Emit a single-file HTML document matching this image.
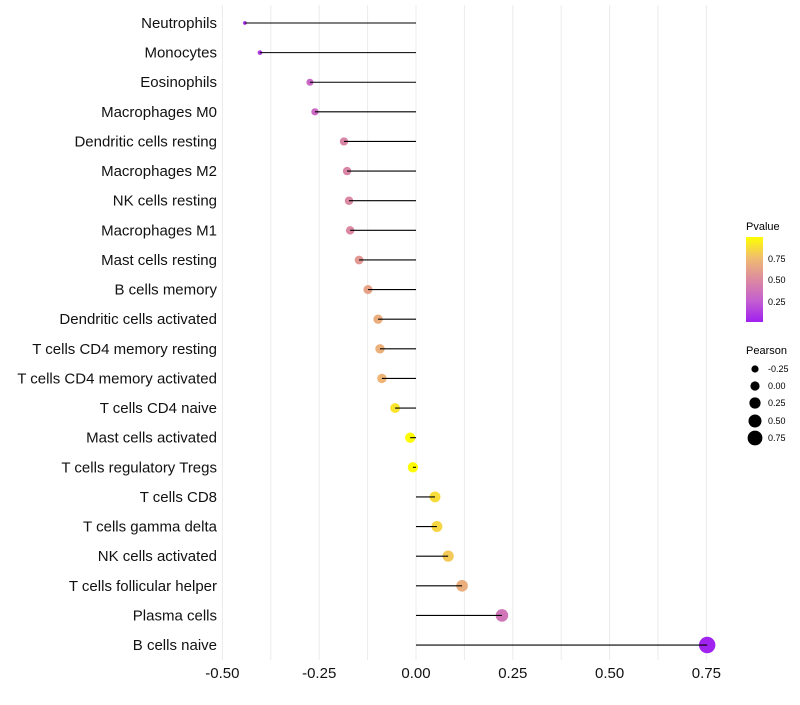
<!DOCTYPE html>
<html><head><meta charset="utf-8"><style>
body{margin:0;background:#fff;font-family:"Liberation Sans",sans-serif}
</style></head><body>
<svg id="chart" width="800" height="700" xmlns="http://www.w3.org/2000/svg" font-family="Liberation Sans, sans-serif">
<defs><linearGradient id="pg" x1="0" y1="1" x2="0" y2="0">
<stop offset="0" stop-color="#a020f0"/><stop offset="0.25" stop-color="#c45fd0"/><stop offset="0.5" stop-color="#dc8aa0"/><stop offset="0.75" stop-color="#f0bb70"/><stop offset="1" stop-color="#ffff00"/></linearGradient></defs>
<g id="grid"></g><g id="marks"></g><g id="axes"></g>
<g>
<text x="746" y="230" font-size="11">Pvalue</text>
<rect x="746" y="237" width="17" height="85" fill="url(#pg)"/>
<text x="768" y="262" font-size="9">0.75</text>
<text x="768" y="283" font-size="9">0.50</text>
<text x="768" y="305" font-size="9">0.25</text>
</g>
<g>
<text x="746" y="354" font-size="11">Pearson</text>
<circle cx="755" cy="369" r="3.6"/><text x="768" y="372" font-size="9">-0.25</text>
<circle cx="755" cy="386" r="4.6"/><text x="768" y="389" font-size="9">0.00</text>
<circle cx="755" cy="403" r="5.6"/><text x="768" y="406" font-size="9">0.25</text>
<circle cx="755" cy="421" r="6.5"/><text x="768" y="424" font-size="9">0.50</text>
<circle cx="755" cy="438" r="7.4"/><text x="768" y="441" font-size="9">0.75</text>
</g>
</svg>
<script>
const categories=["Neutrophils","Monocytes","Eosinophils","Macrophages M0","Dendritic cells resting","Macrophages M2","NK cells resting","Macrophages M1","Mast cells resting","B cells memory","Dendritic cells activated","T cells CD4 memory resting","T cells CD4 memory activated","T cells CD4 naive","Mast cells activated","T cells regulatory  Tregs ","T cells CD8","T cells gamma delta","NK cells activated","T cells follicular helper","Plasma cells","B cells naive"];
const pearson=[-0.442,-0.403,-0.274,-0.261,-0.186,-0.178,-0.173,-0.170,-0.147,-0.124,-0.098,-0.093,-0.088,-0.054,-0.015,-0.008,0.049,0.054,0.083,0.119,0.222,0.752];
const pvalue=[0.05,0.1,0.3,0.32,0.47,0.47,0.49,0.49,0.57,0.63,0.68,0.7,0.72,0.9,0.99,0.99,0.87,0.85,0.8,0.68,0.38,0.01];
const ticks=[-0.5,-0.25,0,0.25,0.5,0.75];
const tickLabels=["-0.50","-0.25","0.00","0.25","0.50","0.75"];
const NS="http://www.w3.org/2000/svg";
const x=v=>416+v*387.2, y=i=>23+i*29.62;
const stops=[[0,[160,32,240]],[0.25,[196,95,208]],[0.5,[220,138,160]],[0.75,[240,187,112]],[1,[255,255,0]]];
function col(p){for(let k=1;k<stops.length;k++){if(p<=stops[k][0]){const a=stops[k-1],b=stops[k],t=(p-a[0])/(b[0]-a[0]);return "rgb("+a[1].map((c,j)=>Math.round(c+(b[1][j]-c)*t)).join(",")+")";}}return "rgb(255,255,0)";}
function mk(t,a,p){const e=document.createElementNS(NS,t);for(const k in a)e.setAttribute(k,a[k]);if(p)document.getElementById(p).appendChild(e);return e;}
for(let v=-0.5;v<=0.751;v+=0.125){const g=mk("line",{x1:x(v),x2:x(v),y1:5,y2:660,stroke:"#ebebeb","stroke-width":1},"grid");

}
ticks.forEach((t,i)=>{const e=mk("text",{x:x(t),y:678,"font-size":15,"text-anchor":"middle",fill:"#111"},"axes");e.textContent=tickLabels[i];

});
categories.forEach((c,i)=>{
const l=mk("text",{x:217,y:y(i)+5,"font-size":15,"text-anchor":"end",fill:"#111"},"axes");l.textContent=c;


const r=1.1*Math.sqrt(Math.max(1,22.5+44.6*pearson[i]));
const d=mk("circle",{cx:x(pearson[i]),cy:y(i),r:r,fill:col(pvalue[i])},"marks");


const s=mk("line",{x1:x(0),x2:x(pearson[i]),y1:y(i),y2:y(i),stroke:"#000","stroke-width":1.1},"marks");


});
</script>
</body></html>
